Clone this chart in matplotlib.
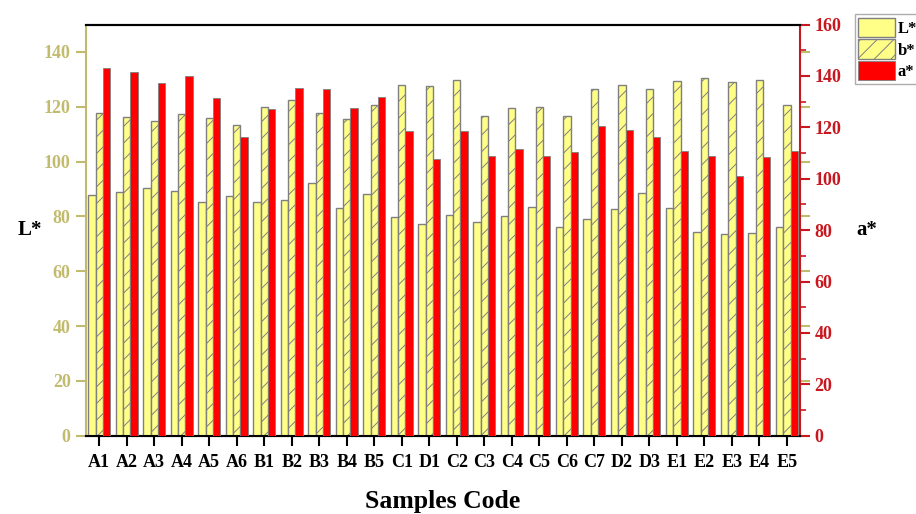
import numpy as np
import matplotlib
matplotlib.use('Agg')
from matplotlib import pyplot as plt
from matplotlib.ticker import MultipleLocator

plt.rcParams['font.family'] = ['Liberation Serif', 'DejaVu Serif']
plt.rcParams['font.weight'] = 'bold'
plt.rcParams['hatch.linewidth'] = 0.7

#Data
samples = ['A1','A2','A3','A4','A5','A6','B1','B2','B3','B4','B5','C1','D1',
           'C2','C3','C4','C5','C6','C7','D2','D3','E1','E2','E3','E4','E5']
L_star = [87.8, 88.9, 90.3, 89.3, 85.3, 87.5, 85.2, 86.1, 92.1, 82.9, 88.1, 79.7, 77.4,
          80.6, 78.0, 80.3, 83.3, 76.3, 79.2, 82.6, 88.5, 83.0, 74.4, 73.5, 73.9, 76.1]
b_star = [117.6, 116.1, 114.8, 117.2, 116.0, 113.3, 119.9, 122.4, 117.6, 115.7, 120.6, 127.9, 127.4,
          129.6, 116.8, 119.5, 119.8, 116.5, 126.6, 128.0, 126.3, 129.4, 130.5, 128.9, 129.7, 120.7]
a_star = [142.9, 141.6, 137.4, 139.9, 131.5, 116.3, 127.3, 135.2, 135.0, 127.5, 131.9, 118.4, 107.6,
          118.4, 108.7, 111.4, 108.9, 110.5, 120.6, 118.8, 116.3, 110.9, 108.7, 101.0, 108.4, 110.6]

olive = '#c2bb6e'
darkred = '#c8171e'
yellow = '#ffff88'
edge = '#7f7f7f'

x = np.arange(len(samples))
w = 0.27

fig = plt.figure(figsize=(9.16, 5.14), dpi=100)
ax1 = fig.add_axes([0.0939, 0.1523, 0.7795, 0.8000])
ax2 = ax1.twinx()

b1 = ax1.bar(x - w, L_star, w, color=yellow, edgecolor=edge, linewidth=1, zorder=3, label='L*')
b2 = ax1.bar(x, b_star, w, color=yellow, edgecolor=edge, linewidth=1, hatch='//', zorder=3, label='b*')
b3 = ax2.bar(x + w, a_star, w, color='#ff0000', edgecolor=edge, linewidth=0.6, zorder=3, label='a*')

ax1.set_xlim(-0.48, len(samples) - 0.52)
ax1.set_ylim(0, 150)
ax2.set_ylim(0, 160)

ax1.set_xticks(x)
ax1.set_xticklabels(samples, fontsize=13, fontweight='bold')
ax1.yaxis.set_major_locator(MultipleLocator(20))
ax2.yaxis.set_major_locator(MultipleLocator(20))
ax2.yaxis.set_minor_locator(MultipleLocator(10))

ax1.tick_params(axis='x', direction='out', length=7, width=1.5, colors='black', pad=6)
ax1.tick_params(axis='y', direction='out', length=7, width=1.5, colors=olive, labelsize=13,
                right=True, labelright=False, pad=4)
ax2.tick_params(axis='y', which='major', direction='out', length=7, width=1.5, colors=darkred, labelsize=13)
ax2.tick_params(axis='y', which='minor', direction='out', length=4, width=1.2, colors=darkred)

for lab in ax1.get_yticklabels() + ax2.get_yticklabels():
    lab.set_fontweight('bold')

ax1.spines['left'].set_color(olive)
ax1.spines['left'].set_linewidth(1.5)
ax2.spines['left'].set_visible(False)
ax2.spines['right'].set_color(darkred)
ax2.spines['right'].set_linewidth(1.5)
ax1.spines['right'].set_visible(False)
for a in (ax1, ax2):
    a.spines['top'].set_linewidth(1.5)
    a.spines['bottom'].set_linewidth(1.5)

ax1.set_ylabel('L*', fontsize=15, fontweight='bold', rotation=0, labelpad=0, va='center')
ax1.yaxis.set_label_coords(-0.079, 0.5)
ax2.set_ylabel('a*', fontsize=15, fontweight='bold', rotation=0, va='center')
ax2.yaxis.set_label_coords(1.093, 0.5)
ax1.set_xlabel('Samples Code', fontsize=18.5, fontweight='bold', labelpad=14)

fig.legend(handles=[b1, b2, b3], loc='upper left', bbox_to_anchor=(0.933, 0.972),
           fontsize=12, frameon=True, fancybox=False, edgecolor='#999999',
           handlelength=2.2, handleheight=1.4, labelspacing=0.15, borderpad=0.2,
           handletextpad=0.2, borderaxespad=0)

plt.savefig('out.png', dpi=100)
